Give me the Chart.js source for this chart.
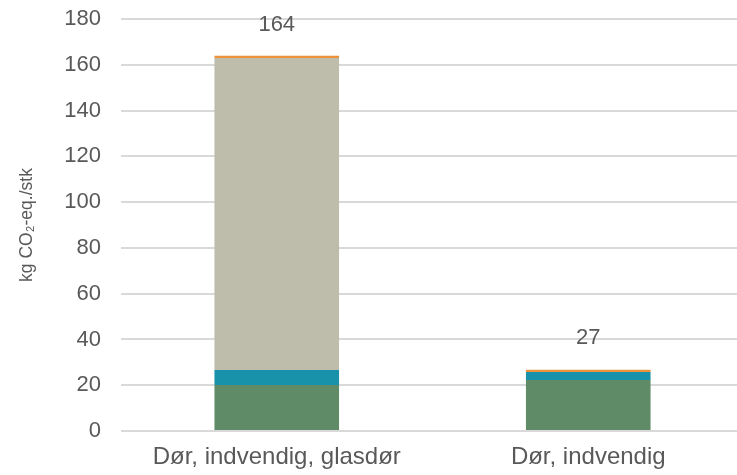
<!DOCTYPE html>
<html>
<head>
<meta charset="utf-8">
<script src="https://cdn.jsdelivr.net/npm/chart.js@4"></script>
<style>
html,body{margin:0;padding:0;background:#fff;overflow:hidden;width:737px;height:475px;}
#wrap{position:relative;width:745px;height:475px;}
</style>
</head>
<body>
<div id="wrap"><canvas id="c"></canvas></div>
<script>
const categories = ["Dør, indvendig, glasdør", "Dør, indvendig"];
const seriesGreen = [20.1, 22.3];
const seriesTeal = [6.5, 3.5];
const seriesGray = [136.4, 0];
const seriesOrange = [0.9, 1.0];
const totals = [164, 27];
const yTicks = [0, 20, 40, 60, 80, 100, 120, 140, 160, 180];

const FONT = "'Liberation Sans', Arial, sans-serif";
const TXT = '#595959';

const totalLabels = {
  id: 'totalLabels',
  afterDatasetsDraw(chart) {
    const ctx = chart.ctx;
    const y = chart.scales.y;
    ctx.save();
    ctx.font = '22px ' + FONT;
    ctx.fillStyle = TXT;
    ctx.textAlign = 'center';
    ctx.textBaseline = 'middle';
    totals.forEach((t, i) => {
      const meta = chart.getDatasetMeta(0);
      const px = meta.data[i].x;
      const py = y.getPixelForValue(t);
      ctx.fillText(String(t), px, py - 31);
    });
    ctx.restore();
  }
};

new Chart(document.getElementById('c'), {
  type: 'bar',
  data: {
    labels: categories,
    datasets: [
      {label: 'A', data: seriesGreen, backgroundColor: '#5F8C66'},
      {label: 'B', data: seriesTeal, backgroundColor: '#1792AA'},
      {label: 'C', data: seriesGray, backgroundColor: '#BEBDAC'},
      {label: 'D', data: seriesOrange, backgroundColor: '#EB923A'}
    ]
  },
  options: {
    responsive: true,
    maintainAspectRatio: false,
    animation: false,
    devicePixelRatio: 1,
    layout: {padding: {top: 0, right: 1, bottom: 0, left: 12}},
    datasets: {bar: {barPercentage: 0.4, categoryPercentage: 1.0, borderWidth: 0}},
    plugins: {legend: {display: false}, tooltip: {enabled: false}},
    scales: {
      x: {
        stacked: true,
        grid: {display: false, drawTicks: false},
        border: {display: false},
        afterFit(scale) { scale.height = 44; },
        ticks: {color: TXT, font: {family: FONT, size: 24}, padding: 12, maxRotation: 0, autoSkip: false}
      },
      y: {
        stacked: true,
        min: 0, max: 180,
        afterBuildTicks(scale) { scale.ticks = yTicks.map(v => ({value: v})); },
        afterFit(scale) { scale.width = 109; scale.paddingTop = 19; },
        grid: {color: '#D9D9D9', lineWidth: 2, drawTicks: false},
        border: {display: false},
        ticks: {color: TXT, font: {family: FONT, size: 22}, padding: 20},
        title: {display: true, text: 'kg CO₂-eq./stk', color: TXT, font: {family: FONT, size: 17.5}, padding: {top: 5, bottom: 0}}
      }
    }
  },
  plugins: [totalLabels]
});
</script>
</body>
</html>
